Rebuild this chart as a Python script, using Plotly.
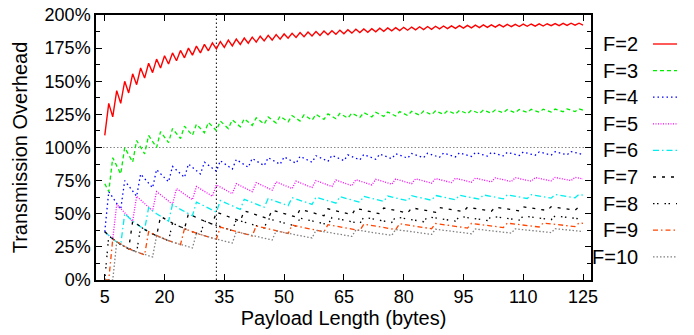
import plotly.graph_objects as go

# ---------------- data ----------------
PAYLOAD = list(range(5, 126))  # payload length in bytes, 5..125

F2_Y = [109.1,
        133.3, 123.1, 142.9, 133.3, 150.0, 141.2, 155.6, 147.4, 160.0, 152.4,
        163.6, 156.5, 166.7, 160.0, 169.2, 163.0, 171.4, 165.5, 173.3, 167.7,
        175.0, 169.7, 176.5, 171.4, 177.8, 173.0, 178.9, 174.4, 180.0, 175.6,
        181.0, 176.7, 181.8, 177.8, 182.6, 178.7, 183.3, 179.6, 184.0, 180.4,
        184.6, 181.1, 185.2, 181.8, 185.7, 182.5, 186.2, 183.1, 186.7, 183.6,
        187.1, 184.1, 187.5, 184.6, 187.9, 185.1, 188.2, 185.5, 188.6, 185.9,
        188.9, 186.3, 189.2, 186.7, 189.5, 187.0, 189.7, 187.3, 190.0, 187.7,
        190.2, 188.0, 190.5, 188.2, 190.7, 188.5, 190.9, 188.8, 191.1, 189.0,
        191.3, 189.2, 191.5, 189.5, 191.7, 189.7, 191.8, 189.9, 192.0, 190.1,
        192.2, 190.3, 192.3, 190.5, 192.5, 190.7, 192.6, 190.8, 192.7, 191.0,
        192.9, 191.2, 193.0, 191.3, 193.1, 191.5, 193.2, 191.6, 193.3, 191.7,
        193.4, 191.9, 193.5, 192.0, 193.7, 192.1, 193.8, 192.3, 193.8, 192.4]

F3_Y = [72.7, 66.7,
        92.3, 85.7, 80.0, 100.0, 94.1, 88.9, 105.3, 100.0, 95.2,
        109.1, 104.3, 100.0, 112.0, 107.7, 103.7, 114.3, 110.3, 106.7,
        116.1, 112.5, 109.1, 117.6, 114.3, 111.1, 118.9, 115.8, 112.8,
        120.0, 117.1, 114.3, 120.9, 118.2, 115.6, 121.7, 119.1, 116.7,
        122.4, 120.0, 117.6, 123.1, 120.8, 118.5, 123.6, 121.4, 119.3,
        124.1, 122.0, 120.0, 124.6, 122.6, 120.6, 125.0, 123.1, 121.2,
        125.4, 123.5, 121.7, 125.7, 123.9, 122.2, 126.0, 124.3, 122.7,
        126.3, 124.7, 123.1, 126.6, 125.0, 123.5, 126.8, 125.3, 123.8,
        127.1, 125.6, 124.1, 127.3, 125.8, 124.4, 127.5, 126.1, 124.7,
        127.7, 126.3, 125.0, 127.8, 126.5, 125.3, 128.0, 126.7, 125.5,
        128.2, 126.9, 125.7, 128.3, 127.1, 125.9, 128.4, 127.3, 126.1,
        128.6, 127.4, 126.3, 128.7, 127.6, 126.5, 128.8, 127.7, 126.7,
        128.9, 127.9, 126.8, 129.0, 128.0, 127.0, 129.1, 128.1, 127.1,
        129.2, 128.2]

F4_X = [5, 6, 9, 10, 13, 14, 17, 18, 21, 22, 25, 26, 29, 30, 33, 34, 37, 38, 41,
        42, 45, 46, 49, 50, 53, 54, 57, 58, 61, 62, 65, 66, 69, 70, 73, 74, 77,
        78, 81, 82, 85, 86, 89, 90, 93, 94, 97, 98, 101, 102, 105, 106, 109,
        110, 113, 114, 117, 118, 121, 122, 125]
F4_Y = [36.4, 66.7, 53.3, 75.0, 63.2, 80.0, 69.6, 83.3, 74.1, 85.7, 77.4, 87.5,
        80.0, 88.9, 82.1, 90.0, 83.7, 90.9, 85.1, 91.7, 86.3, 92.3, 87.3, 92.9,
        88.1, 93.3, 88.9, 93.8, 89.6, 94.1, 90.1, 94.4, 90.7, 94.7, 91.1, 95.0,
        91.6, 95.2, 92.0, 95.5, 92.3, 95.7, 92.6, 95.8, 92.9, 96.0, 93.2, 96.2,
        93.5, 96.3, 93.7, 96.4, 93.9, 96.6, 94.1, 96.7, 94.3, 96.8, 94.5, 96.9,
        94.7]

F5_X = [5, 7, 8, 12, 13, 17, 18, 22, 23, 27, 28, 32, 33, 37, 38, 42, 43, 47,
        48, 52, 53, 57, 58, 62, 63, 67, 68, 72, 73, 77, 78, 82, 83, 87, 88, 92,
        93, 97, 98, 102, 103, 107, 108, 112, 113, 117, 118, 122, 123, 125]
F5_Y = [36.4, 30.8, 57.1, 44.4, 63.2, 52.2, 66.7, 57.1, 69.0, 60.6, 70.6, 63.2,
        71.8, 65.1, 72.7, 66.7, 73.5, 67.9, 74.1, 69.0, 74.6, 69.8, 75.0, 70.6,
        75.4, 71.2, 75.7, 71.8, 76.0, 72.3, 76.2, 72.7, 76.4, 73.1, 76.6, 73.5,
        76.8, 73.8, 76.9, 74.1, 77.1, 74.3, 77.2, 74.6, 77.3, 74.8, 77.4, 75.0,
        77.5, 76.3]

F6_X = [5, 7, 9, 10, 12, 15, 16, 18, 21, 22, 24, 27, 28, 33, 34, 39, 40, 45,
        46, 51, 52, 57, 58, 63, 64, 69, 70, 75, 76, 81, 82, 87, 88, 93, 94, 99,
        100, 105, 106, 111, 112, 117, 118, 123, 124, 125]
F6_Y = [36.4, 30.8, 26.7, 50.0, 44.4, 38.1, 54.5, 50.0, 44.4, 57.1, 53.3, 48.5,
        58.8, 51.3, 60.0, 53.3, 60.9, 54.9, 61.5, 56.1, 62.1, 57.1, 62.5, 58.0,
        62.9, 58.7, 63.2, 59.3, 63.4, 59.8, 63.6, 60.2, 63.8, 60.6, 64.0, 61.0,
        64.2, 61.3, 64.3, 61.5, 64.4, 61.8, 64.5, 62.0, 64.6, 64.1]

F7_X = [5, 8, 11, 12, 15, 18, 19, 22, 25, 26, 29, 32, 33, 39, 40, 46, 47, 53,
        54, 60, 61, 67, 68, 74, 75, 81, 82, 88, 89, 95, 96, 102, 103, 109, 110,
        116, 117, 123, 124, 125]
F7_Y = [36.4, 28.6, 23.5, 44.4, 38.1, 33.3, 48.0, 42.9, 38.7, 50.0, 45.7, 42.1,
        51.3, 44.4, 52.2, 46.2, 52.8, 47.5, 53.3, 48.5, 53.7, 49.3, 54.1, 50.0,
        54.3, 50.6, 54.5, 51.1, 54.7, 51.5, 54.9, 51.9, 55.0, 52.2, 55.2, 52.5,
        55.3, 52.7, 55.4, 55.0]

F8_X = [5, 6, 9, 13, 14, 17, 21, 22, 26, 29, 30, 37, 38, 45, 46, 53, 54, 61,
        62, 69, 70, 77, 78, 85, 86, 93, 94, 101, 102, 109, 110, 117, 118, 125]
F8_Y = [0.0, 33.3, 26.7, 21.1, 40.0, 34.8, 29.6, 42.9, 37.5, 34.3, 44.4, 37.2,
        45.5, 39.2, 46.2, 40.7, 46.7, 41.8, 47.1, 42.7, 47.4, 43.4, 47.6, 44.0,
        47.8, 44.4, 48.0, 44.9, 48.1, 45.2, 48.3, 45.5, 48.4, 45.8]

F9_X = [5, 6, 7, 11, 15, 16, 20, 24, 25, 29, 33, 34, 42, 43, 51, 52, 60, 61,
        69, 70, 78, 79, 87, 88, 96, 97, 105, 106, 114, 115, 123, 124, 125]
F9_Y = [0.0, 0.0, 30.8, 23.5, 19.0, 36.4, 30.8, 26.7, 38.7, 34.3, 30.8, 40.0,
        33.3, 40.8, 35.1, 41.4, 36.4, 41.8, 37.3, 42.1, 38.1, 42.4, 38.7, 42.6,
        39.2, 42.7, 39.6, 42.9, 40.0, 43.0, 40.3, 43.1, 42.7]

F10_X = [5, 7, 8, 12, 17, 18, 22, 27, 28, 32, 37, 38, 47, 48, 57, 58, 67, 68,
         77, 78, 87, 88, 97, 98, 107, 108, 117, 118, 125]
F10_Y = [0.0, 0.0, 28.6, 22.2, 17.4, 33.3, 28.6, 24.2, 35.3, 31.6, 27.9, 36.4,
         30.2, 37.0, 31.7, 37.5, 32.9, 37.8, 33.7, 38.1, 34.4, 38.3, 34.9, 38.5,
         35.4, 38.6, 35.8, 38.7, 36.6]

SERIES_NAMES = ["F=2", "F=3", "F=4", "F=5", "F=6", "F=7", "F=8", "F=9", "F=10"]
SERIES_X = [PAYLOAD, PAYLOAD, F4_X, F5_X, F6_X, F7_X, F8_X, F9_X, F10_X]
SERIES_Y = [F2_Y, F3_Y, F4_Y, F5_Y, F6_Y, F7_Y, F8_Y, F9_Y, F10_Y]

REF_PAYLOAD = 33        # vertical reference line (bytes)
REF_OVERHEAD = 100      # horizontal reference line (%)

X_TICKS = [5, 20, 35, 50, 65, 80, 95, 110, 125]
Y_TICKS = [0, 25, 50, 75, 100, 125, 150, 175, 200]
Y_TICK_LABELS = ["0%", "25%", "50%", "75%", "100%", "125%", "150%", "175%", "200%"]

for xs, ys in zip(SERIES_X, SERIES_Y):
    if len(xs) != len(ys):
        raise ValueError("length mismatch %d %d" % (len(xs), len(ys)))

# ---------------- styles ----------------
COLORS = ["#ff0000", "#00ee00", "#0000ff", "#ff00ff", "#00eeee",
          "#000000", "#000000", "#ff4500", "#808080"]
DASHES = ["solid", "4px,3px", "1.5px,3px", "1px,1.5px", "6px,3px,1.5px,3px",
          "3px,6px", "1.5px,2.5px,1.5px,6px", "5px,3px,1.5px,3px", "1.5px,2px"]

FONT = "Liberation Sans, Arial, Helvetica, sans-serif"
X_RANGE = [2.8, 127]
Y_RANGE = [0, 200]

fig = go.Figure()

# reference lines
fig.add_trace(go.Scatter(x=X_RANGE, y=[REF_OVERHEAD, REF_OVERHEAD], mode="lines",
                         line=dict(color="#888888", width=1, dash="1.5px,2px"),
                         hoverinfo="skip", showlegend=False))
fig.add_trace(go.Scatter(x=[REF_PAYLOAD, REF_PAYLOAD], y=Y_RANGE, mode="lines",
                         line=dict(color="#000000", width=1, dash="1.5px,2.5px"),
                         hoverinfo="skip", showlegend=False))

for name, xs, ys, c, d in zip(SERIES_NAMES, SERIES_X, SERIES_Y, COLORS, DASHES):
    fig.add_trace(go.Scatter(x=xs, y=ys, mode="lines", name=name,
                             line=dict(color=c, width=1.4 if c == "#ff0000" else 1.3,
                                       dash=d),
                             showlegend=False))

# ---------------- layout ----------------
L_M, R_M, T_M, B_M = 96, 103, 15, 55
W, H = 694, 335
pw = W - L_M - R_M
ph = H - T_M - B_M

fig.update_layout(
    width=W, height=H,
    margin=dict(l=L_M, r=R_M, t=T_M, b=B_M, autoexpand=False),
    plot_bgcolor="white", paper_bgcolor="white",
    font=dict(family=FONT, size=20, color="black"),
    showlegend=False,
)
fig.update_xaxes(
    range=X_RANGE, tickvals=X_TICKS, ticks="inside", ticklen=6,
    tickcolor="black", showline=True, linecolor="black", linewidth=1.5,
    mirror="allticks", showgrid=False, zeroline=False, automargin=False,
    tickfont=dict(size=18),
    title=dict(text="Payload Length (bytes)", font=dict(size=20), standoff=5),
)
fig.update_yaxes(
    range=Y_RANGE, tickvals=Y_TICKS, ticktext=Y_TICK_LABELS, ticks="inside",
    ticklen=6, tickcolor="black", showline=True, linecolor="black",
    linewidth=1.5, mirror="allticks", showgrid=False, zeroline=False,
    automargin=False, tickfont=dict(size=18),
    minor=dict(dtick=12.5, ticks="inside", ticklen=4, tickcolor="black"),
    title=dict(text="Transmission Overhead", font=dict(size=20), standoff=12),
)

# legend (gnuplot style: label on the left, line sample on the right)
for i, (name, c, d) in enumerate(zip(SERIES_NAMES, COLORS, DASHES)):
    py = 44 + 26.6 * i
    yp = (H - B_M - py) / ph
    fig.add_annotation(x=(640 - L_M) / pw, y=yp, xref="paper", yref="paper",
                       text=name, showarrow=False, xanchor="right",
                       yanchor="middle", font=dict(size=20, family=FONT))
    fig.add_shape(type="line", xref="paper", yref="paper",
                  x0=(653 - L_M) / pw, x1=(677 - L_M) / pw, y0=yp, y1=yp,
                  line=dict(color=c, width=1.3, dash=d))

fig.write_html("out.html",
               config={"displayModeBar": False},
               post_script="document.body.style.margin='0px';"
                           "document.body.style.padding='0px';")
